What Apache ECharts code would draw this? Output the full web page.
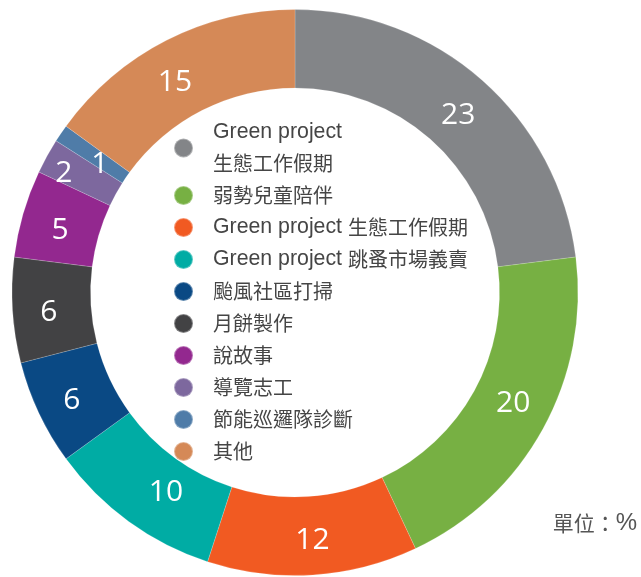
<!DOCTYPE html>
<html>
<head>
<meta charset="utf-8">
<script src="https://cdn.jsdelivr.net/npm/echarts@6/dist/echarts.min.js"></script>
<style>
  html, body { margin: 0; padding: 0; background: #ffffff; }
  #chart { width: 641px; height: 577px; }
</style>
</head>
<body>
<div id="chart"></div>
<script>
// Volunteer activity share, in percent
const categories = [
  'Green project\n生態工作假期',
  '弱勢兒童陪伴',
  'Green project 生態工作假期',
  'Green project 跳蚤市場義賣',
  '颱風社區打掃',
  '月餅製作',
  '說故事',
  '導覽志工',
  '節能巡邏隊診斷',
  '其他'
];
const values = [23, 20, 12, 10, 6, 6, 5, 2, 1, 15];
const colors = [
  '#838588', '#77b043', '#f15a22', '#00aca4', '#0a4984',
  '#424244', '#93288f', '#7d689e', '#4f7ca8', '#d58957'
];
// small nudges for value labels that sit in narrow or crowded slices
const labelOffsets = [
  [0, 8], [2, -8], [2, 2], [16, 0], [0, 3],
  [0, 4], [2, 7], [-15, 0], [9, 11], [-8, 10]
];
const unitName = '單位：';
const unitSymbol = '%';

const chart = echarts.init(document.getElementById('chart'), null, { renderer: 'canvas' });

chart.setOption({
  animation: false,
  color: colors,
  graphic: [{
    type: 'text',
    right: 4,
    top: 511,
    style: {
      text: '{a|' + unitName + '}{b|' + unitSymbol + '}',
      rich: {
        a: {
          fill: '#555555',
          fontSize: 21,
          fontFamily: '"Noto Sans CJK TC", sans-serif'
        },
        b: {
          fill: '#555555',
          fontSize: 24,
          fontFamily: '"Liberation Sans", sans-serif'
        }
      }
    }
  }],
  legend: {
    orient: 'vertical',
    left: 173,
    top: 117,
    padding: 0,
    itemGap: 1,
    itemWidth: 19,
    itemHeight: 19,
    icon: 'circle',
    selectedMode: false,
    data: categories,
    // Latin words get a slightly larger size than the CJK glyphs
    formatter: name => name.replace(/([A-Za-z][A-Za-z ]*)/g, '{l|$1}'),
    textStyle: {
      color: '#454545',
      fontSize: 20,
      lineHeight: 31,
      fontFamily: '"Noto Sans CJK TC", sans-serif',
      padding: [0, 0, 0, 15],
      rich: {
        l: {
          fontSize: 21.3,
          lineHeight: 31,
          color: '#454545',
          fontFamily: '"Liberation Sans", sans-serif'
        }
      }
    }
  },
  series: [{
    type: 'pie',
    center: [295, 292.5],
    radius: [204.5, 283],
    startAngle: 90,
    clockwise: true,
    avoidLabelOverlap: false,
    minShowLabelAngle: 0,
    labelLayout: { hideOverlap: false },
    data: categories.map((name, i) => ({
      name,
      value: values[i],
      label: { offset: labelOffsets[i] }
    })),
    itemStyle: { borderColor: 'rgba(255,255,255,0.35)', borderWidth: 0.5 },
    label: {
      show: true,
      position: 'inside',
      formatter: '{c}',
      color: '#ffffff',
      fontSize: 30,
      fontFamily: '"Open Sans", "Noto Sans", sans-serif'
    },
    labelLine: { show: false },
    emphasis: { disabled: true }
  }]
});
</script>
</body>
</html>
